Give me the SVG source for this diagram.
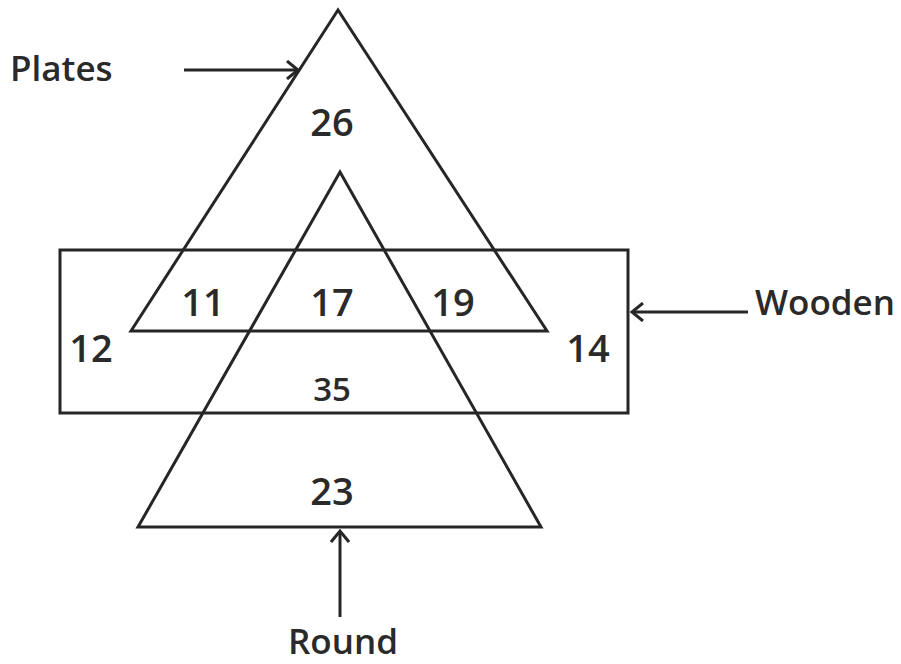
<svg xmlns="http://www.w3.org/2000/svg" width="901" height="664" viewBox="0 0 901 664">
<style>
.shape{fill:none;stroke:#262626;stroke-width:3;stroke-linejoin:miter}
.conn{fill:none;stroke:#262626;stroke-width:3}
.num{font-family:"Open Sans","Noto Sans",sans-serif;font-weight:600;font-size:38px;fill:#2a2a2a;text-anchor:middle}
.lbl{font-family:"Open Sans","Noto Sans",sans-serif;font-weight:600;font-size:35px;fill:#2a2a2a}
</style>
<defs>
<marker id="arr" markerWidth="16" markerHeight="20" refX="13" refY="10" orient="auto" markerUnits="userSpaceOnUse">
<path d="M2,1 L13,10 L2,19" fill="none" stroke="#262626" stroke-width="3"/>
</marker>
</defs>
<rect x="0" y="0" width="901" height="664" fill="#fff"/>
<g id="wooden">
<rect class="shape" x="60" y="250" width="568" height="163"/>
</g>
<g id="plates">
<polygon class="shape" points="338,10 131,331 547,331"/>
</g>
<g id="round">
<polygon class="shape" points="340,172 138,527 541,527"/>
</g>
<g id="connectors">
<line class="conn" x1="184" y1="70" x2="298" y2="70" marker-end="url(#arr)"/>
<line class="conn" x1="748" y1="312" x2="632" y2="312" marker-end="url(#arr)"/>
<line class="conn" x1="340" y1="617" x2="340" y2="531" marker-end="url(#arr)"/>
</g>
<g id="labels">
<text class="lbl" x="10" y="81">Plates</text>
<text class="lbl" x="755" y="315">Wooden</text>
<text class="lbl" x="343" y="654" text-anchor="middle">Round</text>
</g>
<g id="numbers">
<text class="num" x="332" y="136">26</text>
<text class="num" x="203" y="316">11</text>
<text class="num" x="332" y="316">17</text>
<text class="num" x="453" y="316">19</text>
<text class="num" x="91" y="362">12</text>
<text class="num" x="588" y="362">14</text>
<text class="num" x="332" y="401" style="font-size:33px">35</text>
<text class="num" x="332" y="505">23</text>
</g>
</svg>
